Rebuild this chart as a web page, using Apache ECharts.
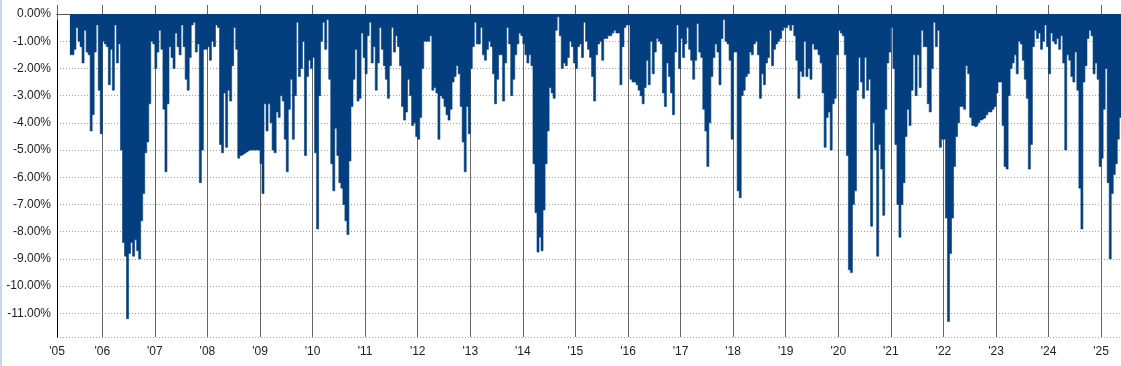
<!DOCTYPE html>
<html><head><meta charset="utf-8">
<script src="https://cdn.jsdelivr.net/npm/echarts@6/dist/echarts.min.js"></script>
<style>
html,body{margin:0;padding:0;background:#fff;}
#c{position:absolute;left:0;top:0;width:1121px;height:366px;}
#edge{position:absolute;left:0;top:0;width:2px;height:366px;background:#c8d6e8;}
</style>
</head><body><div id="c"></div><div id="edge"></div>
<script>
// Drawdown (%), biweekly steps (26 per year)
const firstYear = 2005;
const stepsPerYear = 26;
const firstYearOffset = 10; // series begins in slot 10 of 2005
const dd2005 = [-1.5,-1.5,-1.3,-0.5,-1.0,-1.2,-1.8,-0.6,-1.4,-1.5,-4.3,-3.7,-1.4,-0.4,-2.8,-4.4];
const dd2006 = [-1.0,-1.1,-1.2,-2.6,-1.3,-2.8,-0.4,-1.8,-1.1,-5.0,-8.4,-8.9,-11.2,-8.8,-8.4,-8.9,-8.3,-8.7,-9.0,-7.6,-6.6,-5.1,-4.7,-3.3,-1.0,-1.1];
const dd2007 = [-2.0,-1.4,-0.6,-1.3,-3.5,-5.8,-3.3,-1.2,-1.6,-2.0,-0.7,-1.2,-1.5,-0.4,-1.2,-2.4,-2.8,-1.6,-0.4,-0.3,-1.4,-1.1,-6.2,-5.0,-1.3,-1.3];
const dd2008 = [-1.2,-1.7,-1.0,-1.2,-0.4,-0.5,-4.8,-5.1,-2.9,-4.9,-2.8,-3.2,-1.9,-0.5,-1.3,-5.3,-5.2,-5.15,-5.1,-5.05,-5.0,-5.0,-5.0,-5.0,-5.0,-5.0];
const dd2009 = [-5.5,-6.6,-3.3,-4.3,-3.3,-4.0,-5.0,-5.1,-3.6,-3.8,-3.0,-3.2,-4.6,-5.8,-3.5,-2.4,-4.6,-3.0,-0.3,-2.3,-2.0,-1.0,-5.2,-2.3,-1.7,-2.0];
const dd2010 = [-1.6,-5.1,-7.9,-3.0,-1.0,-0.3,-1.3,-0.2,-2.4,-5.5,-6.5,-4.2,-5.2,-6.2,-6.4,-7.0,-7.6,-8.1,-5.4,-3.4,-2.4,-1.3,-3.2,-3.1,-0.7,-1.6];
const dd2011 = [-2.2,-0.8,-0.3,-1.8,-1.2,-2.8,-1.8,-0.5,-1.3,-1.9,-2.4,-3.1,-1.9,-0.5,-1.4,-0.8,-1.2,-1.9,-3.4,-3.9,-3.6,-2.4,-3.0,-4.1,-4.0,-4.5];
const dd2012 = [-4.6,-3.8,-2.0,-1.0,-1.0,-1.0,-0.8,-2.8,-2.7,-2.9,-4.6,-3.0,-3.1,-3.4,-3.7,-3.9,-3.5,-2.5,-2.3,-1.9,-2.2,-3.4,-4.7,-5.8,-3.4,-4.4];
const dd2013 = [-2.0,-1.2,-0.3,-1.1,-1.1,-0.5,-1.5,-1.7,-1.3,-1.0,-1.2,-2.2,-3.3,-2.4,-1.5,-1.5,-3.2,-1.8,-0.5,-1.1,-3.0,-2.4,-1.5,-1.1,-0.7,-0.8];
const dd2014 = [-1.1,-1.5,-1.8,-1.5,-1.9,-5.5,-7.3,-8.75,-8.2,-8.7,-7.2,-5.5,-4.3,-2.7,-2.9,-3.1,-0.6,-0.1,-0.8,-2.0,-1.8,-1.9,-1.6,-1.0,-1.2,-1.8];
const dd2015 = [-2.0,-1.2,-1.1,-1.6,-0.3,-1.0,-1.3,-1.6,-2.3,-3.2,-1.5,-1.1,-1.0,-1.7,-0.9,-0.9,-0.8,-0.8,-0.7,-0.6,-0.7,-0.7,-2.6,-1.2,-0.5,-0.4];
const dd2016 = [-0.4,-2.4,-2.5,-2.5,-2.6,-2.8,-3.0,-3.3,-2.7,-1.7,-2.6,-1.0,-2.2,-1.4,-0.9,-1.0,-1.1,-2.9,-3.4,-1.8,-2.3,-2.9,-3.7,-1.4,-0.4,-2.0];
const dd2017 = [-0.9,-1.6,-1.1,-0.5,-1.3,-1.7,-2.4,-1.7,-0.35,-1.4,-1.6,-3.5,-4.3,-5.6,-4.0,-2.3,-1.6,-1.1,-1.4,-2.6,-0.9,-0.2,-1.0,-1.1,-1.7,-4.6];
const dd2018 = [-1.4,-1.4,-6.5,-6.75,-3.0,-2.8,-2.3,-2.2,-1.4,-1.5,-1.1,-1.0,-1.5,-3.1,-2.2,-2.6,-1.8,-1.6,-0.6,-1.9,-1.3,-1.1,-1.0,-0.9,-0.6,-0.5];
const dd2019 = [-0.5,-0.4,-0.6,-0.4,-0.8,-1.7,-3.1,-2.1,-2.3,-1.0,-2.3,-2.0,-2.4,-1.1,-1.3,-1.3,-1.5,-1.8,-2.9,-4.9,-3.8,-3.6,-5.0,-3.3,-3.1,-1.5];
const dd2020 = [-0.6,-0.7,-0.8,-1.5,-5.2,-9.4,-9.5,-7.0,-6.5,-2.8,-1.6,-2.5,-3.1,-1.6,-2.8,-2.4,-7.8,-4.0,-5.0,-8.9,-4.8,-5.7,-7.4,-3.5,-1.8,-1.4];
const dd2021 = [-0.5,-2.0,-4.8,-7.0,-8.2,-7.0,-6.2,-4.5,-3.5,-4.1,-2.8,-1.5,-3.0,-1.5,-2.7,-0.6,-1.2,-1.2,-3.3,-3.6,-2.0,-0.3,-1.2,-0.6,-4.9,-4.6];
const dd2022 = [-4.6,-7.5,-11.3,-8.8,-7.5,-5.6,-4.5,-4.0,-3.4,-3.4,-3.5,-1.9,-2.2,-3.8,-4.1,-4.15,-4.1,-4.0,-3.9,-3.85,-3.8,-3.7,-3.6,-3.6,-3.5,-3.4];
const dd2023 = [-2.9,-2.5,-2.5,-4.1,-5.6,-5.7,-3.0,-2.0,-1.8,-1.5,-2.2,-1.0,-1.1,-1.7,-2.4,-3.1,-5.7,-4.8,-1.2,-0.6,-0.9,-0.7,-1.3,-1.0,-0.4,-1.2];
const dd2024 = [-2.2,-0.7,-1.0,-1.1,-0.9,-1.3,-0.8,-1.8,-5.0,-1.5,-1.7,-2.3,-2.5,-1.4,-2.8,-6.4,-7.9,-2.5,-1.9,-0.9,-0.6,-0.8,-2.2,-1.8,-2.4,-5.6];
const dd2025 = [-5.3,-3.5,-2.0,-6.2,-9.0,-6.6,-5.9,-5.5,-4.6,-3.8,-3.8];

const yearly = [dd2005,dd2006,dd2007,dd2008,dd2009,dd2010,dd2011,dd2012,dd2013,dd2014,dd2015,
                dd2016,dd2017,dd2018,dd2019,dd2020,dd2021,dd2022,dd2023,dd2024,dd2025];

const xMin = 2005.139, xMax = 2025.378;
const yMin = -11.87, yMax = 0;

const data = [];
yearly.forEach((arr, k) => {
  const yr = firstYear + k;
  const off = k === 0 ? firstYearOffset : 0;
  arr.forEach((v, i) => data.push([yr + (i + off) / stepsPerYear, v]));
});

const font = "'Liberation Sans', Arial, sans-serif";
const chart = echarts.init(document.getElementById('c'), null, {renderer: 'canvas'});
chart.setOption({
  animation: false,
  grid: {left: 57, right: 0, top: 14, bottom: 29, containLabel: false},
  xAxis: [{
    type: 'value', min: xMin, max: xMax, minInterval: 1, maxInterval: 1, splitNumber: 20,
    axisLine: {show: true, lineStyle: {color: '#000', width: 1}},
    axisTick: {show: true, length: 6, lineStyle: {color: '#666'}},
    axisLabel: {showMaxLabel: false, margin: 9, fontSize: 12, color: '#222', fontFamily: font,
      formatter: v => "'" + String(Math.floor(v + 1e-6)).slice(2)},
    splitLine: {show: true, lineStyle: {color: '#666', width: 1}}
  }, {
    type: 'value', position: 'top', min: xMin, max: xMax, minInterval: 1, maxInterval: 1, splitNumber: 20,
    axisLine: {show: true, lineStyle: {color: '#555', width: 1}},
    axisTick: {show: true, length: 9, lineStyle: {color: '#666'}},
    axisLabel: {show: false},
    splitLine: {show: false}
  }],
  yAxis: {
    type: 'value', min: yMin, max: yMax, minInterval: 1, maxInterval: 1, splitNumber: 12,
    axisLine: {show: true, lineStyle: {color: '#000', width: 1}},
    axisTick: {show: false},
    axisLabel: {showMinLabel: false, margin: 6, fontSize: 12, color: '#222', fontFamily: font,
      formatter: v => v.toFixed(2) + '%'},
    splitLine: {show: true, lineStyle: {color: '#a0a0a0', width: 1, type: [1, 2]}}
  },
  series: [{
    type: 'line', xAxisIndex: 0, data: data, step: 'end', symbol: 'none',
    lineStyle: {width: 0.6, color: '#033f7e'},
    areaStyle: {color: '#033f7e', opacity: 1}
  }]
});
</script>
</body></html>
